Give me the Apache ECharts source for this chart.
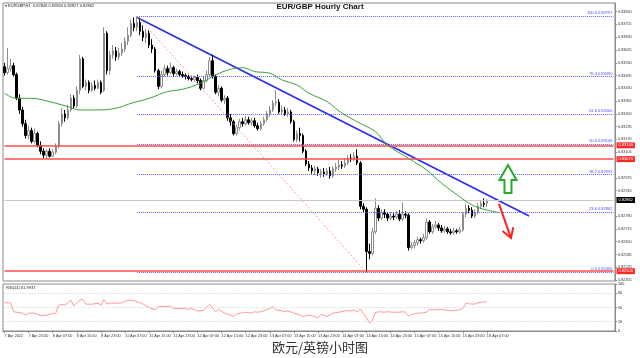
<!DOCTYPE html>
<html><head><meta charset="utf-8">
<script src="https://cdn.jsdelivr.net/npm/echarts@6/dist/echarts.min.js"></script>
<style>html,body{margin:0;padding:0;background:#fff}#c{width:640px;height:358px}</style>
</head><body><div id="c"></div>
<script>
const tickLabels = ['7 Apr 2022','7 Apr 23:00','8 Apr 07:00','8 Apr 15:00','8 Apr 23:00','11 Apr 07:00','11 Apr 15:00','11 Apr 23:00','12 Apr 07:00','12 Apr 15:00','12 Apr 23:00','13 Apr 07:00','13 Apr 15:00','13 Apr 23:00','14 Apr 07:00','14 Apr 15:00','14 Apr 23:00','15 Apr 07:00','15 Apr 15:00','15 Apr 23:00','18 Apr 07:00'];
const tradingDays = [['7 Apr',15,23],['8 Apr',0,23],['11 Apr',0,23],['12 Apr',0,23],['13 Apr',0,23],['14 Apr',0,23],['15 Apr',0,23],['18 Apr',0,23],['19 Apr',0,23]];
const slotCount = 203;
const categories = [];
tradingDays.forEach(([d, h0, h1]) => { for (let h = h0; h <= h1; h++) categories.push(d + ' ' + String(h).padStart(2,'0') + ':00'); });
categories.length = slotCount;

// [open, close, low, high]
const ohlc = [
[0.83540,0.83510,0.83495,0.83560],[0.83510,0.83530,0.83500,0.83635],[0.83530,0.83545,0.83515,0.83580],[0.83545,0.83500,0.83490,0.83560],
[0.83500,0.83380,0.83370,0.83510],[0.83380,0.83320,0.83300,0.83400],[0.83320,0.83250,0.83235,0.83335],[0.83250,0.83190,0.83175,0.83270],
[0.83190,0.83215,0.83170,0.83240],[0.83215,0.83160,0.83150,0.83230],[0.83160,0.83200,0.83150,0.83225],[0.83200,0.83140,0.83130,0.83210],
[0.83140,0.83110,0.83095,0.83160],[0.83110,0.83090,0.83075,0.83125],[0.83090,0.83110,0.83071,0.83120],[0.83110,0.83085,0.83078,0.83125],
[0.83085,0.83105,0.83080,0.83120],[0.83105,0.83135,0.83095,0.83150],[0.83135,0.83250,0.83125,0.83265],[0.83250,0.83300,0.83235,0.83330],
[0.83300,0.83280,0.83260,0.83320],[0.83280,0.83320,0.83270,0.83345],[0.83320,0.83380,0.83310,0.83400],[0.83380,0.83340,0.83325,0.83395],
[0.83340,0.83420,0.83330,0.83440],[0.83420,0.83580,0.83400,0.83600],[0.83580,0.83440,0.83430,0.83590],[0.83440,0.83460,0.83420,0.83475],
[0.83460,0.83420,0.83405,0.83470],[0.83420,0.83445,0.83410,0.83460],[0.83445,0.83430,0.83420,0.83470],[0.83430,0.83460,0.83425,0.83475],
[0.83460,0.83410,0.83400,0.83470],[0.83420,0.83710,0.83410,0.83740],[0.83710,0.83520,0.83500,0.83720],[0.83520,0.83600,0.83500,0.83620],
[0.83600,0.83620,0.83580,0.83650],[0.83620,0.83590,0.83570,0.83640],[0.83590,0.83610,0.83575,0.83635],[0.83610,0.83630,0.83595,0.83660],
[0.83630,0.83670,0.83615,0.83690],[0.83670,0.83700,0.83650,0.83740],[0.83700,0.83760,0.83690,0.83780],[0.83760,0.83740,0.83720,0.83790],
[0.83740,0.83765,0.83720,0.83797],[0.83765,0.83720,0.83700,0.83785],[0.83720,0.83690,0.83670,0.83750],[0.83690,0.83710,0.83660,0.83730],
[0.83710,0.83650,0.83635,0.83725],[0.83650,0.83630,0.83610,0.83680],[0.83630,0.83520,0.83510,0.83640],[0.83520,0.83440,0.83425,0.83530],
[0.83440,0.83500,0.83430,0.83520],[0.83500,0.83530,0.83490,0.83550],[0.83530,0.83510,0.83495,0.83545],[0.83510,0.83535,0.83500,0.83560],
[0.83535,0.83505,0.83490,0.83545],[0.83505,0.83515,0.83495,0.83530],[0.83515,0.83500,0.83490,0.83525],[0.83500,0.83495,0.83485,0.83515],
[0.83495,0.83490,0.83475,0.83505],[0.83490,0.83480,0.83470,0.83500],[0.83480,0.83475,0.83465,0.83495],[0.83475,0.83485,0.83465,0.83495],
[0.83485,0.83470,0.83455,0.83500],[0.83470,0.83430,0.83420,0.83480],[0.83430,0.83470,0.83425,0.83490],[0.83470,0.83500,0.83460,0.83520],
[0.83500,0.83570,0.83490,0.83590],[0.83570,0.83490,0.83480,0.83600],[0.83490,0.83410,0.83400,0.83500],[0.83410,0.83430,0.83390,0.83445],
[0.83430,0.83370,0.83360,0.83440],[0.83370,0.83380,0.83350,0.83395],[0.83380,0.83280,0.83265,0.83390],[0.83280,0.83260,0.83240,0.83300],
[0.83260,0.83200,0.83190,0.83270],[0.83200,0.83230,0.83190,0.83245],[0.83230,0.83260,0.83220,0.83275],[0.83260,0.83250,0.83235,0.83280],
[0.83250,0.83270,0.83240,0.83290],[0.83270,0.83255,0.83245,0.83285],[0.83255,0.83265,0.83240,0.83280],[0.83265,0.83240,0.83230,0.83280],
[0.83240,0.83225,0.83215,0.83255],[0.83225,0.83250,0.83215,0.83265],[0.83250,0.83270,0.83240,0.83285],[0.83270,0.83300,0.83260,0.83315],
[0.83300,0.83320,0.83285,0.83340],[0.83320,0.83355,0.83310,0.83370],[0.83355,0.83360,0.83340,0.83420],[0.83360,0.83310,0.83300,0.83375],
[0.83310,0.83320,0.83295,0.83340],[0.83320,0.83300,0.83290,0.83335],[0.83300,0.83310,0.83285,0.83330],[0.83310,0.83260,0.83250,0.83320],
[0.83260,0.83170,0.83160,0.83270],[0.83170,0.83200,0.83155,0.83215],[0.83200,0.83190,0.83160,0.83230],[0.83190,0.83110,0.83100,0.83200],
[0.83110,0.83045,0.83035,0.83120],[0.83045,0.83025,0.83010,0.83060],[0.83025,0.83010,0.82995,0.83040],[0.83010,0.83020,0.82990,0.83035],
[0.83020,0.83000,0.82985,0.83030],[0.83000,0.83005,0.82975,0.83020],[0.83005,0.82995,0.82980,0.83025],[0.82995,0.83010,0.82985,0.83025],
[0.83010,0.82985,0.82970,0.83030],[0.82985,0.83020,0.82975,0.83035],[0.83020,0.83030,0.83005,0.83050],[0.83030,0.83040,0.83015,0.83065],
[0.83040,0.83035,0.83020,0.83060],[0.83035,0.83050,0.83025,0.83075],[0.83050,0.83075,0.83040,0.83090],[0.83075,0.83070,0.83055,0.83095],
[0.83070,0.83085,0.83060,0.83105],[0.83085,0.83050,0.83040,0.83120],[0.83050,0.82830,0.82815,0.83060],[0.82830,0.82815,0.82800,0.82845],
[0.82815,0.82600,0.82495,0.82825],[0.82600,0.82590,0.82560,0.82640],[0.82590,0.82700,0.82580,0.82720],[0.82700,0.82820,0.82690,0.82870],
[0.82820,0.82770,0.82755,0.82835],[0.82770,0.82800,0.82760,0.82815],[0.82800,0.82790,0.82770,0.82815],[0.82790,0.82770,0.82755,0.82800],
[0.82770,0.82780,0.82760,0.82800],[0.82780,0.82775,0.82760,0.82795],[0.82775,0.82790,0.82765,0.82805],[0.82790,0.82765,0.82755,0.82810],
[0.82765,0.82790,0.82755,0.82850],[0.82790,0.82785,0.82770,0.82805],[0.82785,0.82620,0.82605,0.82795],[0.82620,0.82630,0.82610,0.82650],
[0.82630,0.82645,0.82615,0.82660],[0.82645,0.82660,0.82630,0.82675],[0.82660,0.82655,0.82640,0.82670],[0.82655,0.82670,0.82645,0.82690],
[0.82670,0.82750,0.82660,0.82770],[0.82750,0.82700,0.82690,0.82760],[0.82700,0.82725,0.82690,0.82740],[0.82725,0.82735,0.82715,0.82755],
[0.82735,0.82720,0.82705,0.82745],[0.82720,0.82705,0.82695,0.82735],[0.82705,0.82715,0.82695,0.82730],[0.82715,0.82700,0.82690,0.82725],
[0.82700,0.82695,0.82685,0.82715],[0.82695,0.82705,0.82685,0.82720],[0.82705,0.82700,0.82690,0.82715],[0.82700,0.82710,0.82690,0.82725],
[0.82710,0.82790,0.82700,0.82800],[0.82790,0.82820,0.82775,0.82840],[0.82820,0.82810,0.82795,0.82835],[0.82810,0.82780,0.82770,0.82825],
[0.82780,0.82800,0.82770,0.82815],[0.82800,0.82830,0.82790,0.82845],[0.82830,0.82845,0.82815,0.82860],[0.82845,0.82840,0.82825,0.82870],
[0.82846,0.82862,0.82827,0.82864]
];

// [bar index, value] read along the green moving average
const maPoints = [[0,0.83405],[4,0.83379],[9,0.83379],[15,0.83362],[21,0.83337],[25,0.83320],[31,0.83320],[37,0.83329],[42,0.83354],[48,0.83379],[54,0.83413],[59,0.83425],[65,0.83456],[70,0.83498],[75,0.83527],[79,0.83535],[83,0.83515],[88,0.83507],[92,0.83473],[97,0.83447],[101,0.83405],[107,0.83362],[112,0.83303],[118,0.83252],[123,0.83210],[127,0.83142],[134,0.83074],[140,0.83015],[145,0.82947],[151,0.82879],[155,0.82837],[160,0.82811],[164,0.82798]];
const trendLine = [[44,0.83790],[174,0.82781]];
const fibDiagonal = [[44,0.83797],[120,0.82495]];
const fibLevels = ['100.0','76.4','61.8','50.0','38.2','23.6','0.0'];
const fibPrices = [0.83797,0.83490,0.83300,0.83146,0.82992,0.82802,0.82495];
const fibStart = 44;
const redLevels = [0.83140,0.83070,0.82500];
const lastPrice = 0.82862;
const headerText = '\u25BE EURGBP,H1  0.82846 0.82864 0.82827 0.82862';
const priceTicks = [0.83820,0.83755,0.83690,0.83625,0.83560,0.83495,0.83430,0.83365,0.83300,0.83235,0.83170,0.83105,0.82975,0.82910,0.82780,0.82715,0.82650,0.82585,0.82520,0.82455];
const rsiPoints = [[0,60],[2,60],[3,41],[6,38],[7,34],[8,38],[10,38],[12,33],[13,33],[15,35.5],[17,38],[18,55],[19,57],[20,55],[22,66],[23,53],[25,66],[26,67],[27,57],[29,57],[31,59],[32,55],[33,67],[34,57],[35,60],[37,59],[39,60],[41,66],[43,64.5],[45,60],[46,57],[48,50],[50,45],[51,52],[53,52],[55,53],[56,48],[58,48],[60,48],[61,46],[62,48],[64,42.5],[66,44],[67,50],[68,57],[70,41],[71,46],[73,38],[75,34],[76,30.5],[77,36],[79,39],[80,40],[82,38],[83,41],[84,40],[85,41],[87,45],[88,48],[89,52],[90,45],[92,43],[93,41],[94,43],[96,38],[98,34],[99,30.5],[101,34],[103,30.5],[104,28],[105,35.5],[107,30.5],[109,38],[111,40],[113,43],[115,43],[116,45],[117,40],[118,47],[119,38],[120,29],[121,17.7],[122,22],[123,39],[124,41],[126,40],[127,41],[129,40],[131,40],[132,41],[133,40],[134,32],[135,35],[137,38],[138,38],[140,40],[141,46],[142,45],[144,46],[146,45],[148,43],[151,45],[152,48],[153,59],[154,58],[156,57],[157,60],[159,62],[160,62]];
const rsiLabel = 'RSI(14) 61.9937';
const rsiLevels = [80,50,20];
const rsiTicks = [100,80,50,20,0];
const upArrow = [[167,0.83040],[167,0.82897]];
const downArrow = [[164,0.82842],[168,0.82669]];

const chart = echarts.init(document.getElementById('c'), null, {renderer:'canvas'});
const axisFont = {fontSize:3.8, color:'#333', fontFamily:'Liberation Sans'};
const showTick = (idx) => idx % 8 === 0 && idx / 8 < tickLabels.length;
const lastSlot = slotCount - 1;

const markData = [];
fibPrices.forEach((p, k) => {
  markData.push([
    {coord:[fibStart, p], lineStyle:{color:'#5a5aff', width:1, type:[1,1]},
     label:{show:true, position:'insideEndTop', formatter: fibLevels[k] + ' ' + p.toFixed(5), color:'#4a4aff', fontSize:4, fontFamily:'Liberation Sans', distance:1}},
    {coord:[lastSlot, p]}
  ]);
});
markData.push([
  {coord: fibDiagonal[0], lineStyle:{color:'#ff9a9a', width:1, type:[2,2]}, label:{show:false}},
  {coord: fibDiagonal[1]}
]);
const levelLine = (v, lineColor, lw, bg) => [
  {coord:[0, v], lineStyle:{color:lineColor, width:lw, type:'solid'},
   label:{show:true, position:'end', formatter: v.toFixed(5), backgroundColor:bg, color:'#fff', fontSize:4, fontFamily:'Liberation Sans', padding:[1,2], distance:3}},
  {coord:[lastSlot, v]}
];
markData.push(levelLine(lastPrice, '#c8c8c8', 1, '#000'));
redLevels.forEach(v => markData.push(levelLine(v, '#ff4d4d', 1.5, '#ff2a2a')));

const option = {
  animation:false,
  backgroundColor:'#fff',
  title:{text:'EUR/GBP Hourly Chart', left:'center', top:3, padding:0, textStyle:{fontSize:8, fontWeight:'bold', color:'#111', fontFamily:'Liberation Sans'}},
  grid:[
    {left:3, right:25, top:3, height:278, show:true, borderColor:'#8a8a8a', borderWidth:1},
    {left:3, right:25, top:284, height:47, show:true, borderColor:'#8a8a8a', borderWidth:1}
  ],
  xAxis:[
    {type:'category', gridIndex:0, data:categories, boundaryGap:true, axisLabel:{show:false}, axisTick:{show:false}, axisLine:{show:false}},
    {type:'category', gridIndex:1, data:categories, boundaryGap:true,
      axisLine:{show:true, lineStyle:{color:'#8a8a8a'}},
      axisTick:{show:true, alignWithLabel:true, interval:(i)=>showTick(i), length:2, lineStyle:{color:'#888'}},
      axisLabel:{show:true, interval:(i)=>showTick(i), formatter:(v, i)=>tickLabels[i/8], align:'left', margin:3, ...axisFont}}
  ],
  yAxis:[
    {type:'value', gridIndex:0, position:'right', min:0.82450, max:0.83864, scale:true,
      splitLine:{show:false}, axisLine:{show:true, lineStyle:{color:'#8a8a8a'}},
      axisTick:{show:true, length:2, customValues:priceTicks, lineStyle:{color:'#888'}},
      axisLabel:{show:true, customValues:priceTicks, formatter:(v)=>v.toFixed(5), margin:3, ...axisFont}},
    {type:'value', gridIndex:1, position:'right', min:0, max:100,
      splitLine:{show:false}, axisLine:{show:true, lineStyle:{color:'#8a8a8a'}},
      axisTick:{show:true, length:2, customValues:rsiTicks, lineStyle:{color:'#888'}},
      axisLabel:{show:true, customValues:rsiTicks, margin:3, ...axisFont}}
  ],
  series:[
    {type:'candlestick', xAxisIndex:0, yAxisIndex:0, data:ohlc, barWidth:2, z:4,
      itemStyle:{color:'#ffffff', color0:'#000000', borderColor:'#8c8c8c', borderColor0:'#000000', borderWidth:1}},
    {type:'line', xAxisIndex:0, yAxisIndex:0, data:maPoints, smooth:0.4, showSymbol:false, silent:true, z:5,
      lineStyle:{color:'#3f9f3f', width:1}},
    {type:'line', xAxisIndex:0, yAxisIndex:0, data:trendLine, showSymbol:false, silent:true, z:3,
      lineStyle:{color:'#2a2af0', width:1.6},
      markLine:{silent:true, symbol:['none','none'], animation:false, data:markData}},
    {type:'line', xAxisIndex:1, yAxisIndex:1, data:rsiPoints, showSymbol:false, silent:true,
      lineStyle:{color:'#ff9a9a', width:1},
      markLine:{silent:true, symbol:['none','none'], label:{show:false},
        lineStyle:{color:'#c8c8c8', width:1, type:[1,2]}, data:rsiLevels.map(v=>[{coord:[0, v]}, {coord:[lastSlot, v]}])}}
  ]
};
chart.setOption(option);

function buildGraphics(){
  const px = p => chart.convertToPixel({xAxisIndex:0, yAxisIndex:0}, p);
  const t = px(upArrow[0]), b = px(upArrow[1]);
  const hb = t[1] + 15, hw = 8.5, sw = 3.5;
  const upPts = [[t[0], t[1]], [t[0]+hw, hb], [t[0]+sw, hb], [t[0]+sw, b[1]], [t[0]-sw, b[1]], [t[0]-sw, hb], [t[0]-hw, hb]];
  const d0 = px(downArrow[0]), d1 = px(downArrow[1]);
  const ang = Math.atan2(d0[1]-d1[1], d0[0]-d1[0]);
  const wl = 11;
  const w1 = [d1[0] + wl*Math.cos(ang+0.55), d1[1] + wl*Math.sin(ang+0.55)];
  const w2 = [d1[0] + wl*Math.cos(ang-0.55), d1[1] + wl*Math.sin(ang-0.55)];
  return [
    {type:'text', left:5, top:4, style:{text:headerText, fontSize:4, fill:'#222', fontFamily:'Liberation Sans'}},
    {type:'text', left:6, top:286, style:{text:rsiLabel, fontSize:4, fill:'#222', fontFamily:'Liberation Sans'}},
    {type:'text', left:'center', top:341, style:{text:'欧元/英镑小时图', fontSize:13, fill:'#333', fontFamily:'Noto Sans CJK SC'}},
    {type:'polygon', shape:{points:upPts}, style:{fill:'#fff', stroke:'#2aaa2a', lineWidth:2}, z:10},
    {type:'polyline', shape:{points:[d0, d1]}, style:{stroke:'#ff2020', lineWidth:2, fill:null}, z:10},
    {type:'polyline', shape:{points:[w1, d1, w2]}, style:{stroke:'#ff2020', lineWidth:2, fill:null}, z:10}
  ];
}
chart.setOption({graphic: buildGraphics()});
</script>
</body></html>
